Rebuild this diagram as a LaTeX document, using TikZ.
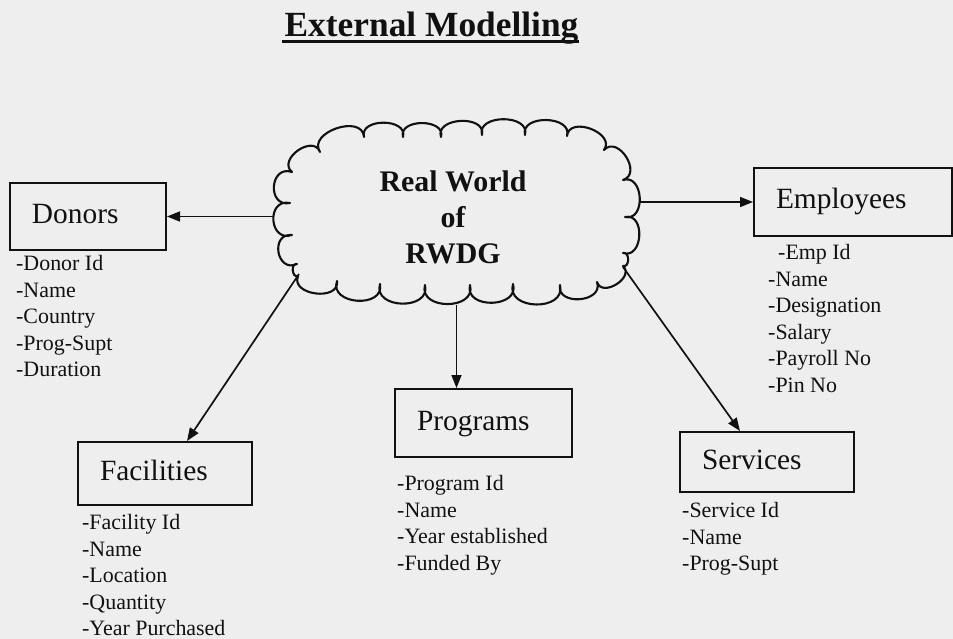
\documentclass[tikz,border=0pt]{standalone}
\usepackage{fontspec}
\setmainfont{Liberation Serif}
\usetikzlibrary{arrows.meta,calc}
\definecolor{paper}{HTML}{EEEEEE}
\definecolor{ink}{HTML}{111111}
\begin{document}
\begin{tikzpicture}[x=1bp,y=-1bp,color=ink,
  titletext/.style={anchor=base,inner sep=0pt,font=\bfseries\fontsize{35.5}{40}\selectfont},
  underline/.style={line width=2.6bp},
  worldtext/.style={anchor=north,align=center,inner sep=0pt,font=\bfseries\fontsize{30}{36}\selectfont},
  cloudline/.style={line width=2.1bp,line join=round,line cap=round},
  bump/.style={bend left=105,looseness=#1},
  bump/.default=1.4,
  entbox/.style={draw=ink,line width=2bp,inner xsep=22bp,inner ysep=0pt,align=left,
    font=\fontsize{29.5}{34}\selectfont,text height=20bp,text depth=6bp},
  attrs/.style={anchor=north west,align=left,inner sep=0pt,font=\fontsize{22}{26.7}\selectfont},
  conn/.style={draw=ink,line width=1.7bp,-{Triangle[length=13bp,width=10bp]}}
]
% page
\fill[paper] (0,0) rectangle (953,639);
\useasboundingbox (0,0) rectangle (953,639);

% heading
\node[titletext] (title) at (431.5,37) {External Modelling};
\draw[underline] ($(title.base west)+(-2,4.8)$) -- ($(title.base east)+(0,4.8)$);

% the real world, drawn as a scalloped cloud
\node[inner sep=0pt,outer sep=0pt,minimum width=367bp,minimum height=184bp] (world) at (456.5,213) {};
\draw[cloudline] (320,152)
  to[bump=1.3] (364,137) to[bump=1.3] (403,137) to[bump=1.3] (441,137)
  to[bump=1.3] (482,135) to[bump=1.3] (525,135) to[bump=1.3] (567,136)
  to[bump=1.35] (604,150)
  to[bump=1.5] (623,180) to[bump=1.5] (625,217) to[bump=1.5] (623,253)
  to[bump=1.4] (623,266)
  to[bump=1.4] (597,282) to[bump=1.5] (560,285) to[bump=1.5] (513,284)
  to[bump=1.5] (470,285) to[bump=1.5] (425,285) to[bump=1.5] (380,284)
  to[bump=1.5] (337,281) to[bump=1.35] (298,276)
  to[bump=1.4] (297,264)
  to[bump=1.95] (292,235) to[bump=1.95] (290,203) to[bump=1.95] (292,172)
  to[bump=1.45] (320,152);
\node[worldtext] (worldtext) at (453,171) {Real World\\of\\RWDG};

% entities
\node[entbox,text width=112bp,minimum height=67bp] (donors) at (88,216.5) {Donors};
\node[entbox,text width=153.5bp,minimum height=68bp] (employees) at (852.75,202) {Employees};
\node[entbox,text width=130bp,minimum height=63bp] (facilities) at (165,473.5) {Facilities};
\node[entbox,text width=133bp,minimum height=68bp] (programs) at (483.5,423) {Programs};
\node[entbox,text width=130bp,minimum height=60bp] (services) at (767,462) {Services};

% attribute lists
\node[attrs] (donors-attr) at (16,255) {-Donor Id\\-Name\\-Country\\-Prog-Supt\\-Duration};
\node[attrs] (employees-attr) at (768,244) {\hspace*{10bp}-Emp Id\\-Name\\-Designation\\-Salary\\-Payroll No\\-Pin No};
\node[attrs] (facilities-attr) at (82,514) {-Facility Id\\-Name\\-Location\\-Quantity\\-Year Purchased};
\node[attrs] (programs-attr) at (397,475) {-Program Id\\-Name\\-Year established\\-Funded By};
\node[attrs] (services-attr) at (682,502) {-Service Id\\-Name\\-Prog-Supt};

% connectors
\coordinate (cloud-sw) at (299,274);
\coordinate (cloud-se) at (623,267);
\draw[conn] (donors.east -| world.west) -- (donors.east);
\draw[conn] (employees.west -| world.east) -- (employees.west);
\draw[conn] (world.south) -- (world.south |- programs.north);
\draw[conn] (cloud-sw) -- ([xshift=22bp]facilities.north);
\draw[conn] (cloud-se) -- ([xshift=-27bp]services.north);
\end{tikzpicture}
\end{document}
